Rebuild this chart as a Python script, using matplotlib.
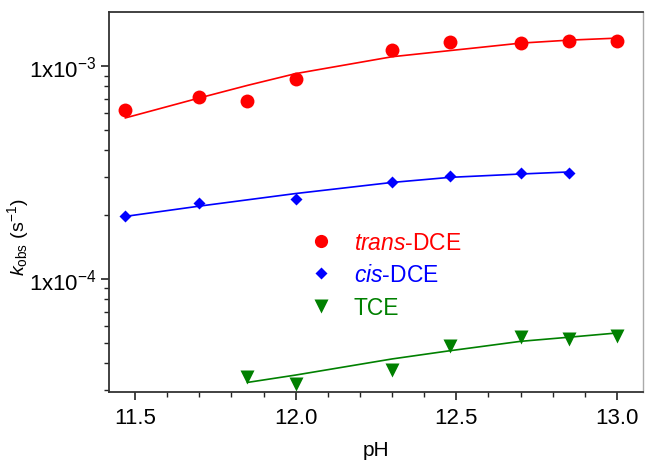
import matplotlib
matplotlib.use("Agg")
import math
import matplotlib.pyplot as plt
from matplotlib.ticker import FixedLocator, LogLocator, NullFormatter, MultipleLocator, FuncFormatter
from matplotlib.lines import Line2D

plt.rcParams['font.family'] = ['Liberation Sans', 'DejaVu Sans']
plt.rcParams['mathtext.fontset'] = 'custom'
plt.rcParams['mathtext.rm'] = 'Liberation Sans'
plt.rcParams['mathtext.it'] = 'Liberation Sans:italic'
plt.rcParams['mathtext.bf'] = 'Liberation Sans:bold'

# ---- data ----
ph_trans = [11.47, 11.70, 11.85, 12.00, 12.30, 12.48, 12.70, 12.85, 13.00]
k_trans = [6.21e-4, 7.17e-4, 6.86e-4, 8.70e-4, 1.184e-3, 1.292e-3, 1.273e-3, 1.302e-3, 1.312e-3]
fit_trans = [5.69e-4, 7.06e-4, 8.09e-4, 9.19e-4, 1.103e-3, 1.179e-3, 1.278e-3, 1.32e-3, 1.349e-3]

ph_cis = [11.47, 11.70, 12.00, 12.30, 12.48, 12.70, 12.85]
k_cis = [1.96e-4, 2.27e-4, 2.37e-4, 2.83e-4, 3.04e-4, 3.12e-4, 3.12e-4]
fit_cis = [1.96e-4, 2.19e-4, 2.51e-4, 2.83e-4, 2.99e-4, 3.10e-4, 3.17e-4]

ph_tce = [11.85, 12.00, 12.30, 12.48, 12.70, 12.85, 13.00]
k_tce = [3.45e-5, 3.21e-5, 3.71e-5, 4.84e-5, 5.30e-5, 5.20e-5, 5.40e-5]
fit_tce = [3.25e-5, 3.52e-5, 4.19e-5, 4.58e-5, 5.07e-5, 5.30e-5, 5.55e-5]

labels = ["$\\it{trans}$-DCE", "$\\it{cis}$-DCE", "TCE"]
colors = ["#ff0000", "#0000ff", "#008000"]
x_ticks = [11.5, 12.0, 12.5, 13.0]
y_ticks = [1e-4, 1e-3]

fig = plt.figure(figsize=(6.46, 4.64), dpi=100)
ax = fig.add_axes([109/646, 1-393/464, (643-109)/646, (393-13)/464])

ax.plot(ph_trans, fit_trans, color=colors[0], lw=1.2, zorder=2)
ax.plot(ph_cis, fit_cis, color=colors[1], lw=1.2, zorder=2)
ax.plot(ph_tce, fit_tce, color=colors[2], lw=1.2, zorder=2)

ax.plot(ph_trans, k_trans, 'o', color=colors[0], ms=10, mec='none', zorder=3)
ax.plot(ph_cis, k_cis, 'D', color=colors[1], ms=6.5, mec='none', zorder=3)
ax.plot(ph_tce, k_tce, 'v', color=colors[2], ms=10.5, mec='none', zorder=3)

ax.set_yscale('log')
ax.set_xlim(11.419, 13.081)
ax.set_ylim(2.93e-5, 1.79e-3)

ax.xaxis.set_major_locator(FixedLocator(x_ticks))
ax.xaxis.set_minor_locator(MultipleLocator(0.1))
ax.xaxis.set_major_formatter(FuncFormatter(lambda v, p: f"{v:.1f}"))
ax.yaxis.set_major_locator(FixedLocator(y_ticks))
ax.yaxis.set_minor_locator(LogLocator(base=10, subs=range(2, 10)))
ax.yaxis.set_minor_formatter(NullFormatter())

def yfmt(v, p):
    e = int(round(math.log10(v)))
    return "1x10$^{%d}$" % e
ax.yaxis.set_major_formatter(FuncFormatter(yfmt))

ax.tick_params(axis='both', which='major', direction='out', length=6, width=1.2, labelsize=16, colors='#222222', labelcolor='black')
ax.tick_params(axis='both', which='minor', direction='out', length=3.5, width=1.0, colors='#222222')
ax.tick_params(axis='x', pad=5)
ax.tick_params(axis='y', pad=3)

for s in ['left', 'bottom', 'top']:
    ax.spines[s].set_linewidth(1.3)
    ax.spines[s].set_color('#333333')
ax.spines['right'].set_linewidth(1.0)
ax.spines['right'].set_color('#aaaaaa')

ax.set_xlabel("pH", fontsize=15)
ax.xaxis.set_label_coords((376-109)/534, -(441-393)/380)
ax.set_ylabel("$k_{\\rm obs}$ (s$^{-1}$)", fontsize=14)
ax.yaxis.set_label_coords((31-109)/534, 1-(237-13)/380)

handles = [
    Line2D([], [], ls='none', marker='o', color=colors[0], ms=9.5, mec='none'),
    Line2D([], [], ls='none', marker='D', color=colors[1], ms=6.5, mec='none'),
    Line2D([], [], ls='none', marker='v', color=colors[2], ms=10.5, mec='none'),
]
leg = ax.legend(handles, labels, loc='upper left', bbox_to_anchor=(309.5/646, 1-232/464),
                bbox_transform=fig.transFigure, frameon=False, fontsize=16.5,
                handlelength=1.0, handletextpad=0.94, labelspacing=0.41,
                borderpad=0, borderaxespad=0, labelcolor=colors)

fig.savefig("out.png", dpi=100)
